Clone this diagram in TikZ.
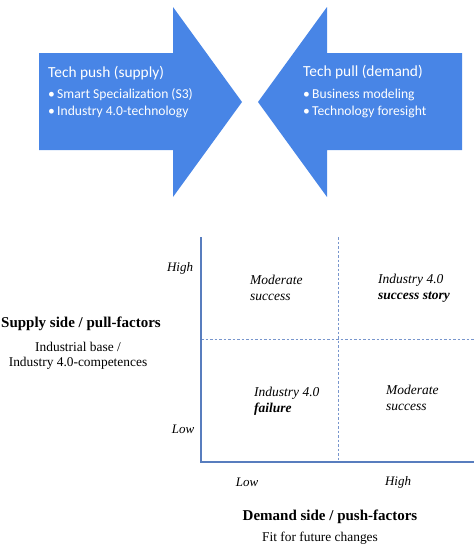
\documentclass[tikz,border=0pt]{standalone}
\usepackage{fontspec}
\setmainfont{Liberation Serif}
\newfontfamily\calib{Carlito}
\definecolor{arrowblue}{RGB}{72,133,230}
\definecolor{axisblue}{RGB}{88,125,190}
\definecolor{dashblue}{RGB}{120,150,205}
\begin{document}
\begin{tikzpicture}[x=1pt,y=-1pt,
  bigarrow/.style={fill=arrowblue,draw=none},
  headtxt/.style={anchor=west,inner sep=0,text=white,font=\calib\fontsize{15.4}{18}\selectfont},
  bullettxt/.style={anchor=west,inner sep=0,text=white,font=\calib\fontsize{13.6}{16}\selectfont},
  axislabel/.style={inner sep=0,font=\itshape\fontsize{13}{15}\selectfont},
  celltxt/.style={anchor=west,inner sep=0,align=left,font=\itshape\fontsize{13.5}{16}\selectfont},
  titletxt/.style={inner sep=0,font=\bfseries\fontsize{15}{18}\selectfont},
  subtxt/.style={inner sep=0,align=center,font=\fontsize{13.4}{15.5}\selectfont}]
\useasboundingbox (0,0) rectangle (474,546);
% arrows
\fill[bigarrow] (39,53) -- (173,53) -- (173,7) -- (242,102) -- (173,197) -- (173,150) -- (39,150) -- cycle;
\fill[bigarrow] (462,53) -- (327,53) -- (327,7) -- (258,102) -- (327,197) -- (327,150) -- (462,150) -- cycle;
\node[headtxt] (tpush) at (48,73) {Tech push (supply)};
\node[bullettxt] (b1) at (48,95) {\textbullet\,Smart Specialization (S3)};
\node[bullettxt] (b2) at (48,112) {\textbullet\,Industry 4.0-technology};
\node[headtxt] (tpull) at (303,72) {Tech pull (demand)};
\node[bullettxt] (b3) at (303,95) {\textbullet\,Business modeling};
\node[bullettxt] (b4) at (303,112) {\textbullet\,Technology foresight};
% chart
\coordinate (ytop) at (201,237);
\coordinate (orig) at (201,462);
\coordinate (xend) at (474,462);
\coordinate (vtop) at (338,237);
\coordinate (vbot) at (338,462);
\coordinate (hl) at (201,339);
\coordinate (hr) at (474,339);
\draw[dashblue,dashed,line width=0.8pt,dash pattern=on 2.5pt off 2pt] (vtop) -- (vbot);
\draw[dashblue,dashed,line width=0.8pt,dash pattern=on 2.5pt off 2pt] (hl) -- (hr);
\draw[axisblue,line width=1.4pt] (ytop) -- (orig) -- (xend);
\node[axislabel] (yhigh) at (180,268) {High};
\node[axislabel] (ylow) at (183,429) {Low};
\node[axislabel] (xlow) at (247,482) {Low};
\node[axislabel] (xhigh) at (398,482) {High};
\node[celltxt] (c1) at (250,288) {Moderate\\success};
\node[celltxt] (c2) at (378,288) {Industry 4.0\\\textbf{success story}};
\node[celltxt] (c3) at (254,401) {Industry 4.0\\\textbf{failure}};
\node[celltxt] (c4) at (386,398) {Moderate\\success};
\node[titletxt] (st) at (81,324) {Supply side / pull-factors};
\node[subtxt] (ss) at (78,356) {Industrial base /\\Industry 4.0-competences};
\node[titletxt] (dt) at (330,517) {Demand side / push-factors};
\node[subtxt] (ds) at (320,538) {Fit for future changes};
\end{tikzpicture}
\end{document}
